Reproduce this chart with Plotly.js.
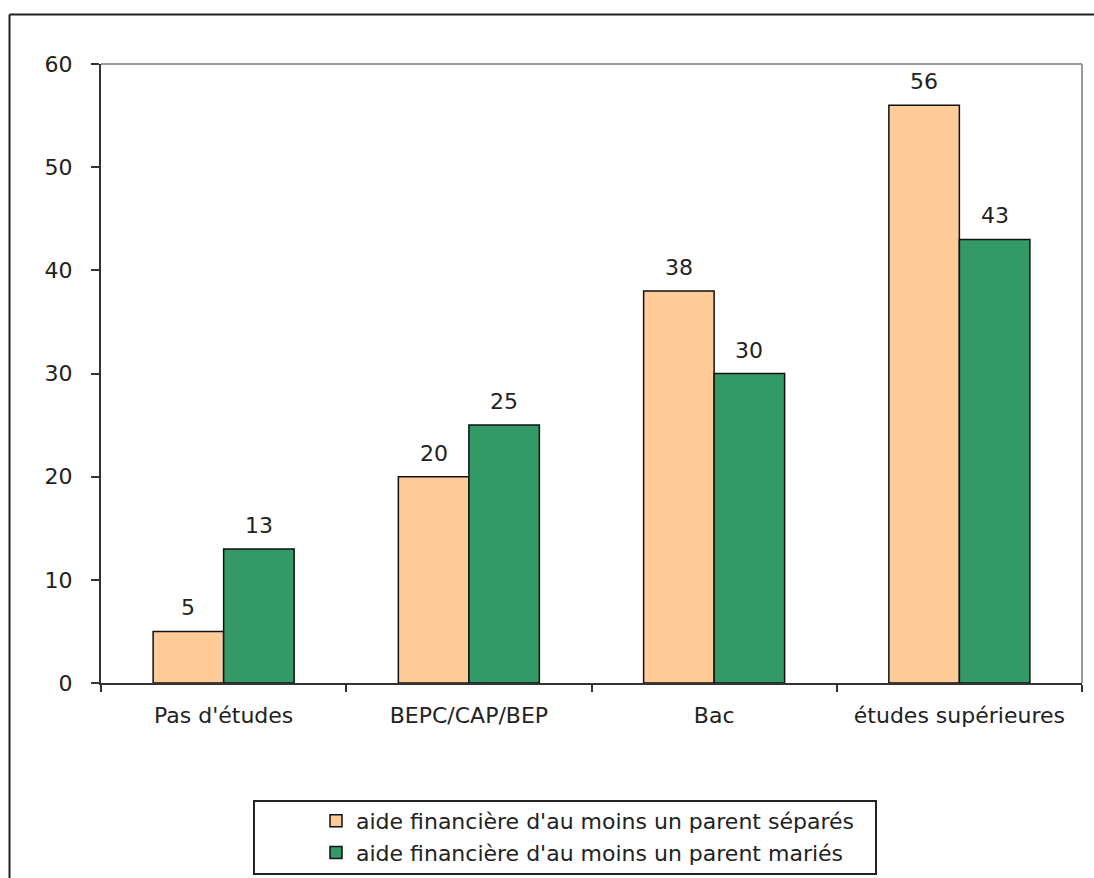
<!DOCTYPE html>
<html>
<head>
<meta charset="utf-8">
<script src="https://cdn.plot.ly/plotly-3.0.1.min.js"></script>
<style>
  html, body { margin: 0; padding: 0; background: #ffffff; }
  #chart { width: 1094px; height: 878px; }
</style>
</head>
<body>
<div id="chart"></div>
<script>
// Niveau d'études et aide financière des parents (en %)
const categories = ["Pas d'études", "BEPC/CAP/BEP", "Bac", "études supérieures"];
const separes = [5, 20, 38, 56];
const maries = [13, 25, 30, 43];
const seriesNames = [
  "aide financière d'au moins un parent séparés",
  "aide financière d'au moins un parent mariés"
];
const yTicks = [0, 10, 20, 30, 40, 50, 60];

const W = 1094, H = 878;
const M = { l: 101, r: 12, t: 64, b: 195, autoexpand: false };
const PW = W - M.l - M.r, PH = H - M.t - M.b;
// pixel -> paper coordinates
const px = x => (x - M.l) / PW;
const py = y => (H - M.b - y) / PH;

const FONT = "DejaVu Sans, Verdana, sans-serif";
const FS = 22;
const TEXT = "#222222";

const BARGAP = 0.425;
// half a bar width in pixels, used to centre each value label over its bar
const halfBar = (PW / categories.length) * (1 - BARGAP) / 4;

const barStyle = (color) => ({
  color: color,
  line: { color: "#111111", width: 1.5 }
});

const traces = [
  {
    type: "bar",
    name: seriesNames[0],
    x: categories,
    y: separes,
    marker: barStyle("#FFCC99")
  },
  {
    type: "bar",
    name: seriesNames[1],
    x: categories,
    y: maries,
    marker: barStyle("#339966")
  }
];

// value labels above each bar
const labels = [];
[[separes, -1], [maries, 1]].forEach(([vals, side]) => {
  vals.forEach((v, i) => {
    labels.push({
      x: categories[i],
      y: v,
      xref: "x",
      yref: "y",
      text: String(v),
      showarrow: false,
      xanchor: "center",
      yanchor: "bottom",
      xshift: side * halfBar,
      yshift: 9,
      font: { family: FONT, size: FS, color: TEXT }
    });
  });
});

const layout = {
  width: W,
  height: H,
  margin: M,
  paper_bgcolor: "#ffffff",
  plot_bgcolor: "#ffffff",
  font: { family: FONT, size: FS, color: TEXT },
  barmode: "group",
  bargap: BARGAP,
  bargroupgap: 0,
  showlegend: true,
  legend: {
    orientation: "v",
    x: px(316),
    xanchor: "left",
    y: py(800),
    yanchor: "top",
    bgcolor: "rgba(0,0,0,0)",
    borderwidth: 0,
    font: { family: FONT, size: FS, color: TEXT },
    itemclick: false,
    tracegroupgap: 0
  },
  xaxis: {
    type: "category",
    showline: true,
    linecolor: "#333333",
    linewidth: 2,
    ticks: "outside",
    tickson: "boundaries",
    ticklen: 7,
    tickwidth: 2,
    tickcolor: "#333333",
    showgrid: false,
    zeroline: false,
    ticklabelstandoff: 12,
    tickfont: { family: FONT, size: FS, color: TEXT }
  },
  yaxis: {
    range: [0, 60],
    tickvals: yTicks,
    ticktext: yTicks.map(String),
    showline: true,
    linecolor: "#333333",
    linewidth: 2,
    ticks: "outside",
    ticklen: 8,
    tickwidth: 2,
    tickcolor: "#333333",
    showgrid: false,
    zeroline: false,
    ticklabelstandoff: 14,
    tickfont: { family: FONT, size: FS, color: TEXT }
  },
  annotations: labels,
  shapes: [
    // grey frame on top and right of the plotting area
    { type: "line", xref: "paper", yref: "paper", x0: 0, x1: 1, y0: 1, y1: 1,
      line: { color: "#999999", width: 2 } },
    { type: "line", xref: "paper", yref: "paper", x0: 1, x1: 1, y0: 0, y1: 1,
      line: { color: "#999999", width: 2 } },
    // outer chart border
    { type: "line", xref: "paper", yref: "paper", x0: px(9.5), x1: px(1200), y0: py(14.5), y1: py(14.5),
      line: { color: "#222222", width: 2 } },
    { type: "line", xref: "paper", yref: "paper", x0: px(9.5), x1: px(9.5), y0: py(14.5), y1: py(1000),
      line: { color: "#222222", width: 2 } },
    // legend frame
    { type: "rect", xref: "paper", yref: "paper", x0: px(254), x1: px(876), y0: py(801), y1: py(874),
      line: { color: "#222222", width: 2 }, fillcolor: "rgba(0,0,0,0)" }
  ]
};

Plotly.newPlot("chart", traces, layout, { displayModeBar: false, staticPlot: true });
</script>
</body>
</html>
